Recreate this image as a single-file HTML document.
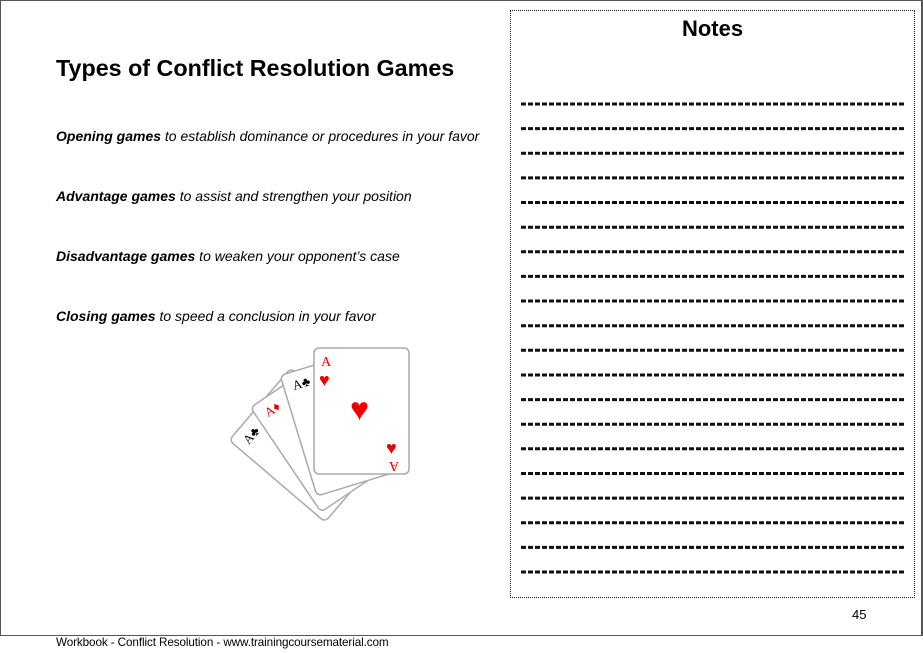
<!DOCTYPE html>
<html><head><meta charset="utf-8"><style>
body{margin:0;width:923px;height:653px;background:#fff;position:relative;overflow:hidden;font-family:"Liberation Sans",Arial,sans-serif;color:#000}
.outer{position:absolute;left:0;top:0;width:920px;height:634px;border:1px solid #555;border-right-width:2px}
.t{position:absolute;white-space:nowrap}
.p{position:absolute;left:56px;font-size:14px;font-style:italic;white-space:nowrap}
</style></head><body>
<div class="outer"></div>
<div class="t" style="left:56px;top:55px;font-size:23.3px;font-weight:bold">Types of Conflict Resolution Games</div>
<div class="p" style="top:128px"><b>Opening games</b> to establish dominance or procedures in your favor</div>
<div class="p" style="top:188px"><b>Advantage games</b> to assist and strengthen your position</div>
<div class="p" style="top:248px"><b>Disadvantage games</b> to weaken your opponent’s case</div>
<div class="p" style="top:308px"><b>Closing games</b> to speed a conclusion in your favor</div>
<div style="position:absolute;left:510px;top:10px;width:403px;height:586px;border:1px dotted #222"></div>
<div class="t" style="left:510px;width:405px;text-align:center;top:16px;font-size:22px;font-weight:bold">Notes</div>
<svg style="position:absolute;left:0;top:0" width="923" height="653">
<g stroke="#111" stroke-width="3" stroke-dasharray="5 2">
<line x1="521" x2="904" y1="104" y2="104"/><line x1="521" x2="904" y1="128.6" y2="128.6"/><line x1="521" x2="904" y1="153.3" y2="153.3"/><line x1="521" x2="904" y1="177.9" y2="177.9"/><line x1="521" x2="904" y1="202.5" y2="202.5"/><line x1="521" x2="904" y1="227.2" y2="227.2"/><line x1="521" x2="904" y1="251.8" y2="251.8"/><line x1="521" x2="904" y1="276.4" y2="276.4"/><line x1="521" x2="904" y1="301" y2="301"/><line x1="521" x2="904" y1="325.7" y2="325.7"/><line x1="521" x2="904" y1="350.3" y2="350.3"/><line x1="521" x2="904" y1="375" y2="375"/><line x1="521" x2="904" y1="399.6" y2="399.6"/><line x1="521" x2="904" y1="424.2" y2="424.2"/><line x1="521" x2="904" y1="448.8" y2="448.8"/><line x1="521" x2="904" y1="473.5" y2="473.5"/><line x1="521" x2="904" y1="498.1" y2="498.1"/><line x1="521" x2="904" y1="522.7" y2="522.7"/><line x1="521" x2="904" y1="547.4" y2="547.4"/><line x1="521" x2="904" y1="572" y2="572"/>
</g>
<g fill="#fff" stroke="#aaa" stroke-width="1.5">
<g transform="rotate(-49.5 325 522)"><rect x="325" y="396" width="95" height="126" rx="5"/><text x="334" y="414" font-size="13" fill="#000" stroke="none" font-family="Liberation Serif">A♣</text></g>
<g transform="rotate(-34 321 512)"><rect x="321" y="386" width="95" height="126" rx="5"/><text x="330" y="404" font-size="13" fill="#e00" stroke="none" font-family="Liberation Serif">A♦</text></g>
<g transform="rotate(-17 317 496)"><rect x="317" y="370" width="95" height="126" rx="5"/><text x="326" y="388" font-size="13" fill="#000" stroke="none" font-family="Liberation Serif">A♣</text></g>
<rect x="314" y="348" width="95" height="126" rx="5"/>
</g>
<text x="321" y="366" font-size="14" fill="#e00" font-family="Liberation Serif">A</text>
<text x="319" y="386" font-size="18" fill="#e00">♥</text>
<text x="350" y="420" font-size="32" fill="#e00">♥</text>
<text x="386" y="454" font-size="18" fill="#e00">♥</text>
<text x="389" y="458" font-size="14" fill="#e00" font-family="Liberation Serif" transform="rotate(180 394 460)">A</text>
</svg>
<div class="t" style="left:852px;top:607px;font-size:13px">45</div>
<div class="t" style="left:56px;top:636px;font-size:11.7px;letter-spacing:-0.1px">Workbook - Conflict Resolution - www.trainingcoursematerial.com</div>
</body></html>
